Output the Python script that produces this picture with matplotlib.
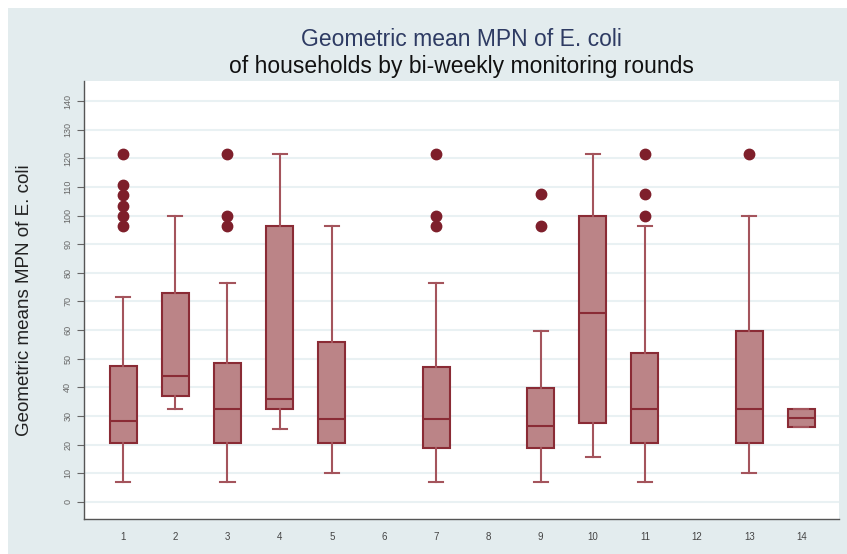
import numpy as np
import matplotlib.pyplot as plt

plt.rcParams['font.family'] = ['Liberation Sans', 'DejaVu Sans']

# rounds that have data
rounds = [1, 2, 3, 4, 5, 7, 9, 10, 11, 13, 14]
whisker_low = [6.9, 32.4, 6.9, 25.6, 9.9, 6.9, 6.9, 15.5, 6.9, 9.9, 26.3]
q1 = [20.7, 37.0, 20.7, 32.3, 20.7, 18.9, 18.9, 27.4, 20.7, 20.7, 26.3]
median = [28.4, 44.0, 32.3, 36.0, 29.1, 28.8, 26.5, 66.1, 32.3, 32.3, 29.3]
q3 = [47.4, 73.1, 48.5, 96.3, 55.9, 47.1, 39.8, 99.8, 52.0, 59.6, 32.3]
whisker_high = [71.5, 99.8, 76.5, 121.4, 96.3, 76.5, 59.6, 121.4, 96.3, 99.8, 32.3]
outliers = [
    [96.2, 100.0, 103.5, 107.2, 110.8, 121.4],
    [],
    [96.3, 99.8, 121.4],
    [],
    [],
    [96.3, 99.8, 121.4],
    [96.3, 107.4],
    [],
    [99.8, 107.4, 121.4],
    [121.4],
    [],
]
xtick_labels = [str(i) for i in range(1, 15)]

stats = []
for i in range(len(rounds)):
    stats.append({"whislo": whisker_low[i], "q1": q1[i], "med": median[i],
                  "q3": q3[i], "whishi": whisker_high[i], "fliers": outliers[i]})

fig = plt.figure(figsize=(8.47, 5.54), dpi=100)
fig.patch.set_facecolor("white")
# grey-blue panel behind the chart
bg = fig.add_axes([8/847, 0, 1, 1 - 8/554], zorder=-1)
bg.set_facecolor("#e3ecee")
bg.set_xticks([])
bg.set_yticks([])
for s in bg.spines.values():
    s.set_visible(False)

ax = fig.add_axes([84/847, 1 - 519/554, (839 - 84)/847, (519 - 81)/554], zorder=1)
ax.set_facecolor("white")

edge = "#8a2b35"
ax.bxp(stats, positions=rounds, widths=0.52, capwidths=0.27, patch_artist=True,
       boxprops=dict(facecolor="#bb8487", edgecolor=edge, linewidth=1.5),
       medianprops=dict(color=edge, linewidth=1.5),
       whiskerprops=dict(color="#a4545c", linewidth=1.5),
       capprops=dict(color="#a4545c", linewidth=1.5),
       flierprops=dict(marker="o", markersize=7.5, markerfacecolor="#7e1f2b",
                       markeredgecolor="#7e1f2b"))

ax.set_xlim(0.25, 14.72)
ax.set_ylim(-6, 147)
ax.set_xticks(range(1, 15))
ax.set_xticklabels(xtick_labels, fontsize=7, color="#444444")
ax.set_yticks(range(0, 141, 10))
ax.set_yticklabels([str(v) for v in range(0, 141, 10)], fontsize=6.5, color="#666666",
                   rotation=90, va="center")
ax.tick_params(axis="y", direction="out", length=5, color="#666666", width=0.8)
ax.tick_params(axis="x", length=0, pad=9)
ax.yaxis.grid(True, color="#e9f1f3", linewidth=1.5)
ax.set_axisbelow(True)
for s in ["top", "right"]:
    ax.spines[s].set_visible(False)
for s in ["left", "bottom"]:
    ax.spines[s].set_color("#555555")
    ax.spines[s].set_linewidth(1.0)

ax.set_ylabel("Geometric means MPN of E. coli", fontsize=13.5, color="#222222", labelpad=22)

cx = (84 + 839) / 2 / 847
fig.text(cx, 1 - 40/554, "Geometric mean MPN of E. coli", ha="center", va="center",
         fontsize=16.5, color="#2e3b63")
fig.text(cx, 1 - 66/554, "of households by bi-weekly monitoring rounds", ha="center",
         va="center", fontsize=16.5, color="#111111")

fig.savefig("out.png", dpi=100)
